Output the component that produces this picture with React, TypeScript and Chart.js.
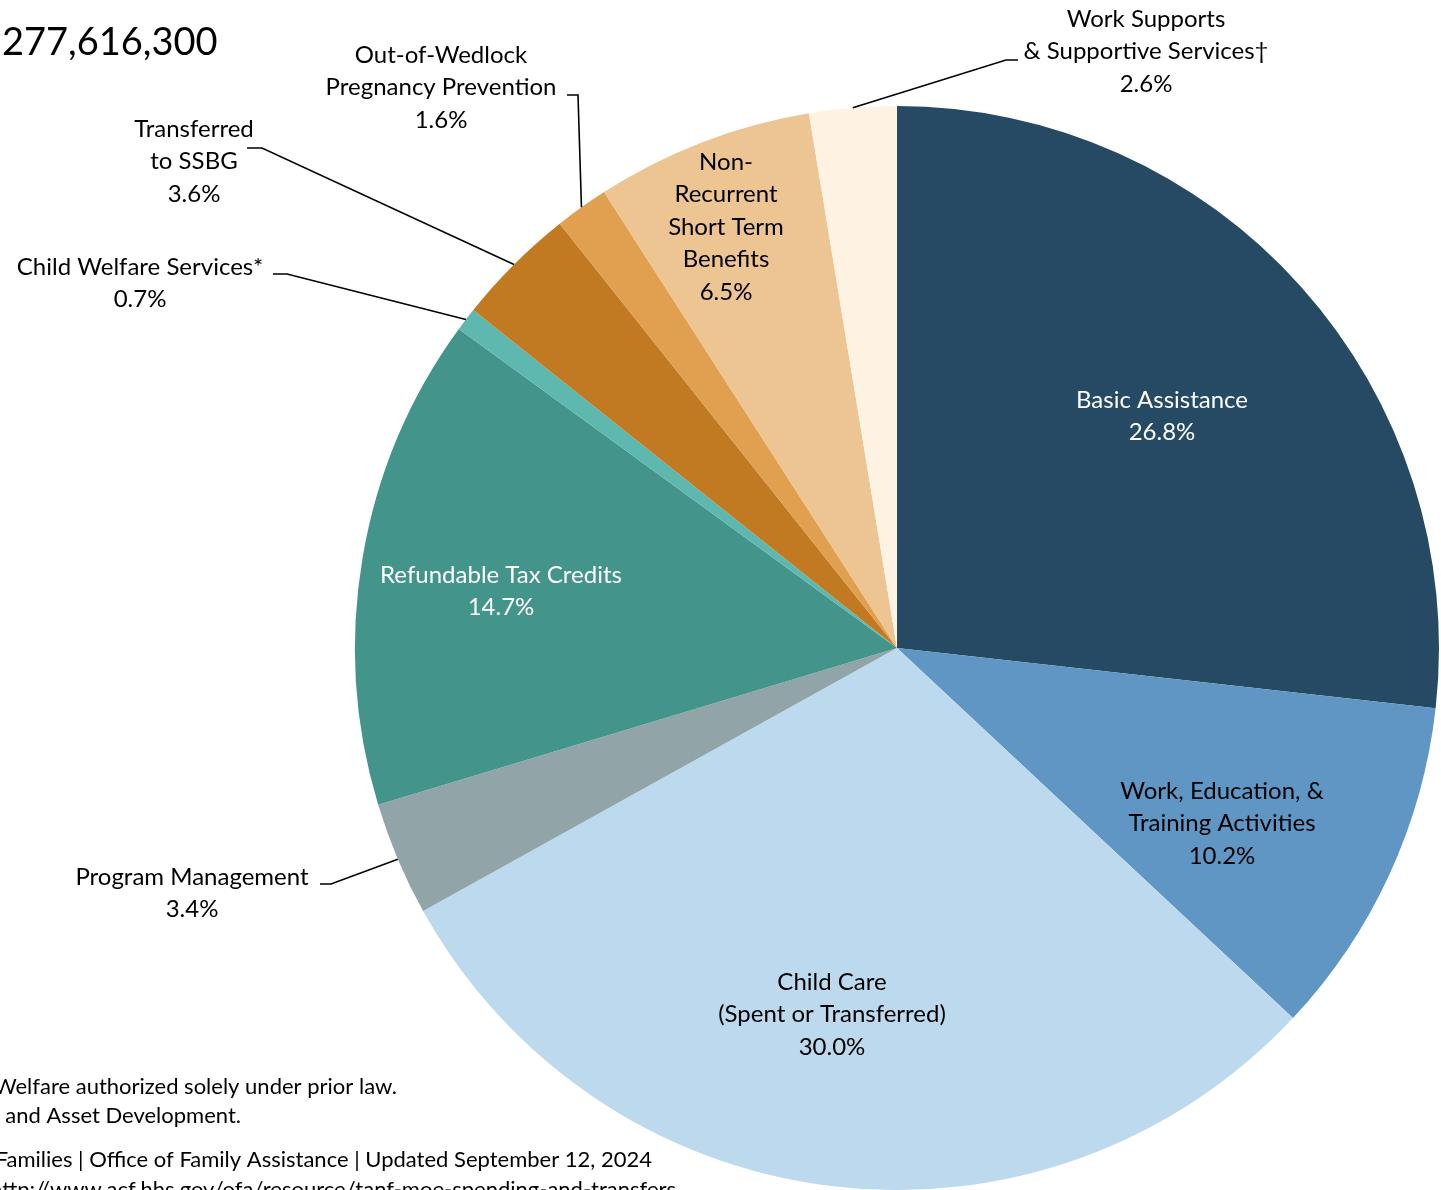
import React, { useEffect, useRef } from "react";
import { Chart, registerables } from "chart.js";
Chart.register(...registerables);

const categories = [
  "Basic Assistance",
  "Work, Education, & Training Activities",
  "Child Care (Spent or Transferred)",
  "Program Management",
  "Refundable Tax Credits",
  "Child Welfare Services*",
  "Transferred to SSBG",
  "Out-of-Wedlock Pregnancy Prevention",
  "Non-Recurrent Short Term Benefits",
  "Work Supports & Supportive Services†",
];
const shares = [26.8, 10.2, 30.0, 3.4, 14.7, 0.7, 3.6, 1.6, 6.5, 2.6];
const labelNameLines = [
  ["Basic Assistance"],
  ["Work, Education, &", "Training Activities"],
  ["Child Care", "(Spent or Transferred)"],
  ["Program Management"],
  ["Refundable Tax Credits"],
  ["Child Welfare Services*"],
  ["Transferred", "to SSBG"],
  ["Out-of-Wedlock", "Pregnancy Prevention"],
  ["Non-", "Recurrent", "Short Term", "Benefits"],
  ["Work Supports", "& Supportive Services†"],
];
const totalText = "277,616,300";
const footnoteLines = [
  "* Child Welfare authorized solely under prior law.",
  "† Includes Individual Development Accounts and Asset Development.",
  "Administration for Children and Families | Office of Family Assistance | Updated September 12, 2024",
  "Source: http://www.acf.hhs.gov/ofa/resource/tanf-moe-spending-and-transfers",
];

// styles / layout (kept apart from data)
const sliceColors = [
  "#264a63", "#5f96c3", "#bdd9ed", "#91a5a9", "#43948b",
  "#5eb8b0", "#c27a22", "#e1a04f", "#edc593", "#fef3e2",
];
const FONT = "Lato, 'Open Sans', sans-serif";
const LINE_H = 32.5;
const labelLayout = [
  { x: 1162, y: 400, color: "#ffffff", leader: null },
  { x: 1222, y: 791, color: "#000000", leader: null },
  { x: 832, y: 982, color: "#000000", leader: null },
  { x: 192, y: 877, color: "#000000", leader: [[320, 884], [331, 884]] },
  { x: 501, y: 575, color: "#ffffff", leader: null },
  { x: 140, y: 267, color: "#000000", leader: [[273, 274], [287, 274]] },
  { x: 194, y: 129, color: "#000000", leader: [[247, 148], [262, 148]] },
  { x: 441, y: 55, color: "#000000", leader: [[567, 95], [578, 95]] },
  { x: 726, y: 162, color: "#000000", leader: null },
  { x: 1146, y: 19, color: "#000000", leader: [[1018, 60], [1006, 60]] },
];
const footnoteLayout = [
  { right: 397, y: 1087 },
  { right: 241, y: 1116 },
  { right: 652, y: 1160 },
  { right: 676, y: 1190 },
];

const annotations = {
  id: "annotations",
  afterDraw(chart: any) {
    const ctx = chart.ctx;
    const meta = chart.getDatasetMeta(0);
    ctx.save();
    // leader lines
    ctx.strokeStyle = "#000000";
    ctx.lineWidth = 1.6;
    labelLayout.forEach((lay, i) => {
      if (!lay.leader) return;
      const arc: any = meta.data[i];
      const p = arc.getProps(["x", "y", "startAngle", "endAngle", "outerRadius"], true);
      const mid = (p.startAngle + p.endAngle) / 2;
      const ex = p.x + Math.cos(mid) * p.outerRadius;
      const ey = p.y + Math.sin(mid) * p.outerRadius;
      ctx.beginPath();
      ctx.moveTo(lay.leader[0][0], lay.leader[0][1]);
      for (let k = 1; k < lay.leader.length; k++) ctx.lineTo(lay.leader[k][0], lay.leader[k][1]);
      ctx.lineTo(ex, ey);
      ctx.stroke();
    });
    // labels
    ctx.font = `24px ${FONT}`;
    ctx.textAlign = "center";
    ctx.textBaseline = "middle";
    labelLayout.forEach((lay, i) => {
      const lines = [...labelNameLines[i], `${shares[i].toFixed(1)}%`];
      ctx.fillStyle = lay.color;
      lines.forEach((t, k) => ctx.fillText(t, lay.x, lay.y + k * LINE_H));
    });
    // total
    ctx.fillStyle = "#000000";
    ctx.textAlign = "left";
    ctx.font = `38px ${FONT}`;
    ctx.fillText(totalText, 2, 43);
    // footnotes
    ctx.font = `22px ${FONT}`;
    ctx.textAlign = "right";
    footnoteLines.forEach((t, k) => ctx.fillText(t, footnoteLayout[k].right, footnoteLayout[k].y));
    ctx.restore();
  },
};

export default function App() {
  const ref = useRef<HTMLCanvasElement | null>(null);
  useEffect(() => {
    if (!ref.current) return;
    const chart = new Chart(ref.current, {
      type: "pie",
      data: {
        labels: categories,
        datasets: [
          {
            data: shares,
            backgroundColor: sliceColors,
            borderWidth: 0,
          },
        ],
      },
      options: {
        responsive: false,
        animation: false,
        layout: { padding: { left: 355, right: 2, top: 106, bottom: 0 } },
        plugins: { legend: { display: false }, tooltip: { enabled: false } },
      },
      plugins: [annotations],
    });
    return () => chart.destroy();
  }, []);
  return (
    <div style={{ position: "absolute", left: 0, top: 0, width: 1441, height: 1190, background: "#ffffff" }}>
      <canvas ref={ref} width={1441} height={1190} style={{ display: "block" }} />
    </div>
  );
}
